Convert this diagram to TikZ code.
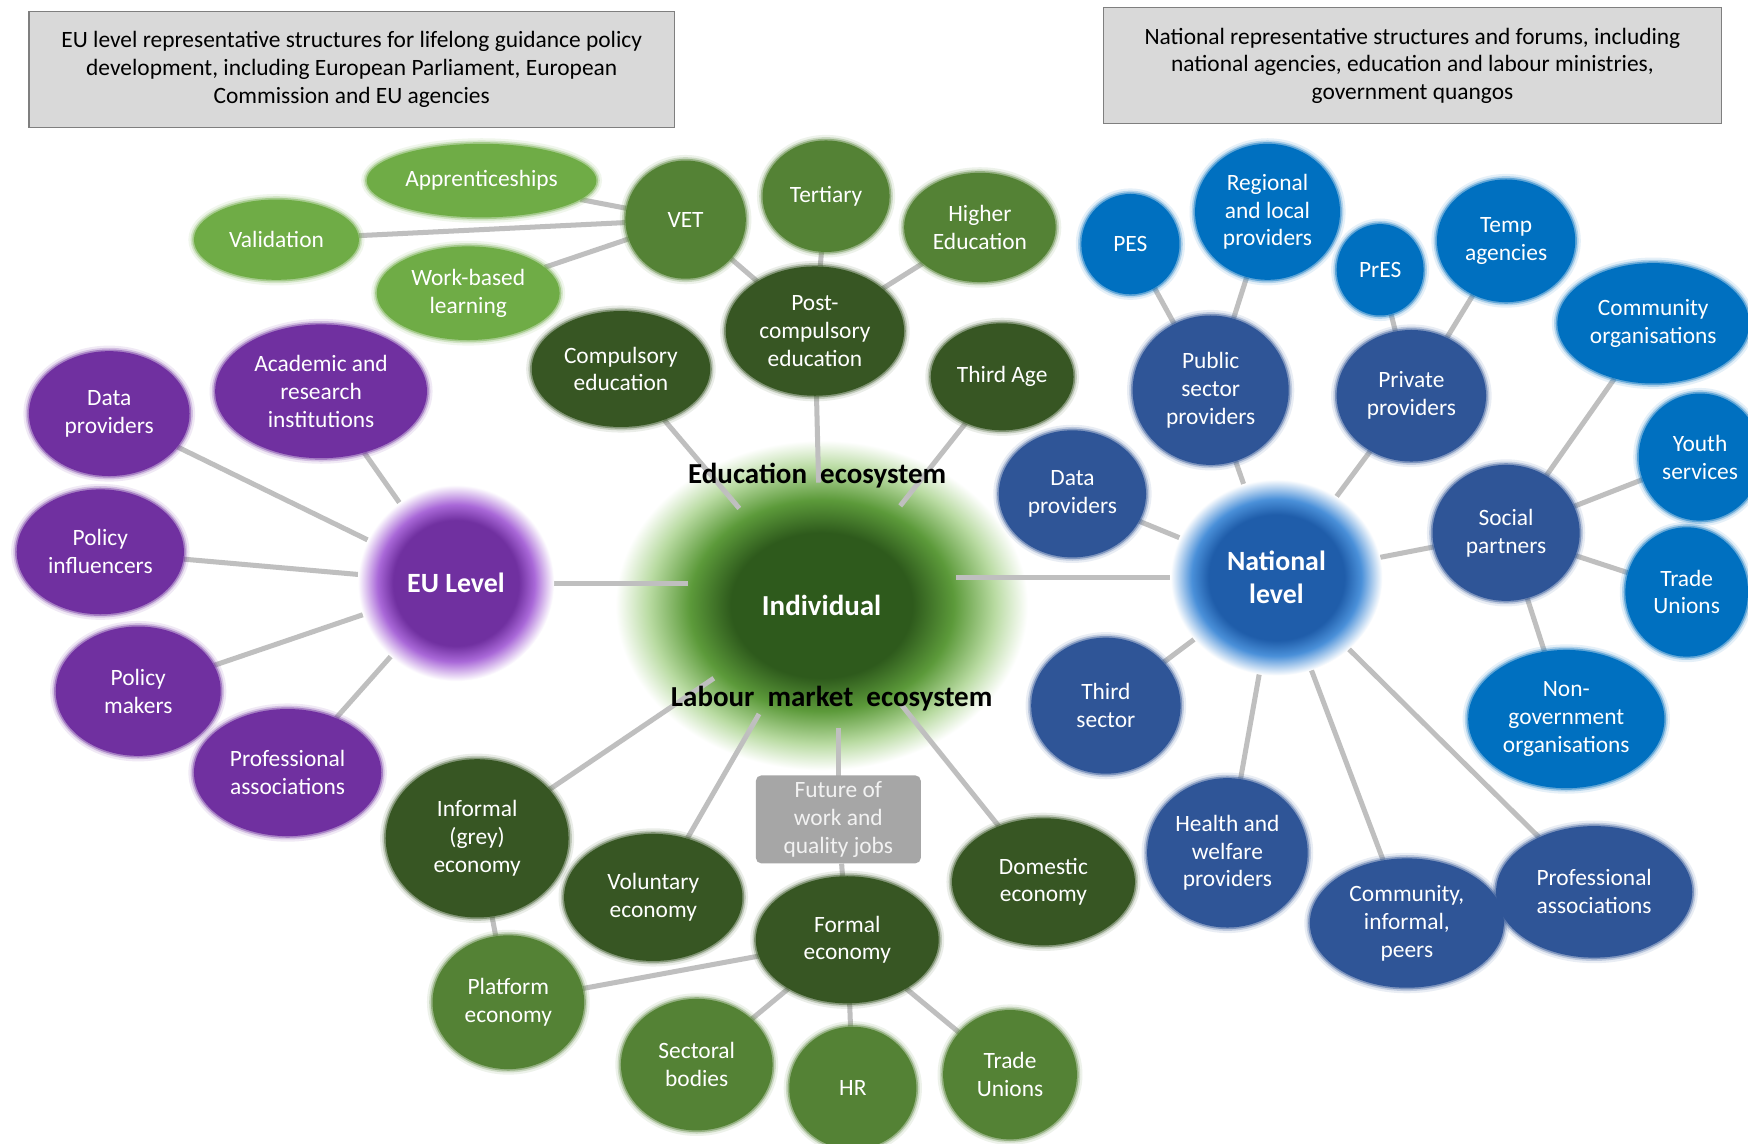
\documentclass[tikz,border=0pt]{standalone}
\usepackage{fontspec}
\setmainfont{Carlito}
\usetikzlibrary{shapes.geometric}
\definecolor{lg}{HTML}{6FAC46}
\definecolor{mg}{HTML}{548235}
\definecolor{dg}{HTML}{375623}
\definecolor{purp}{HTML}{7030A0}
\definecolor{purpL}{HTML}{A968D8}
\definecolor{db}{HTML}{2F5597}
\definecolor{bb}{HTML}{0070C0}
\definecolor{natC}{HTML}{1F5DAA}
\definecolor{natL}{HTML}{4A90D9}
\definecolor{edgec}{HTML}{BFBFBF}
\definecolor{boxf}{HTML}{D9D9D9}
\definecolor{boxd}{HTML}{7F7F7F}
\definecolor{futf}{HTML}{A6A6A6}
\definecolor{indD}{HTML}{2E5A1C}
\definecolor{indM}{HTML}{5C9A3A}
\definecolor{indL}{HTML}{B9DBA2}
\pgfdeclareradialshading{indglow}{\pgfpoint{0bp}{0bp}}{color(0bp)=(indD); color(11bp)=(indD); color(16bp)=(indM); color(21bp)=(indL); color(25bp)=(white); color(50bp)=(white)}
\pgfdeclareradialshading{euglow}{\pgfpoint{0bp}{0bp}}{color(0bp)=(purp); color(16bp)=(purp); color(20bp)=(purpL); color(25bp)=(white); color(50bp)=(white)}
\pgfdeclareradialshading{natglow}{\pgfpoint{0bp}{0bp}}{color(0bp)=(natC); color(16bp)=(natC); color(20bp)=(natL); color(25bp)=(white); color(50bp)=(white)}
\pgfdeclarelayer{glow}
\pgfdeclarelayer{lines}
\pgfsetlayers{glow,lines,main}
\newcommand\nfont{\fontsize{21}{25}\selectfont}
\tikzset{
  bub/.style={ellipse, fill=#1, text=white, inner sep=0pt, align=center, font=\nfont,
    preaction={draw=#1, line width=10pt, opacity=0.10},
    preaction={draw=#1, line width=6pt, opacity=0.22},
    preaction={draw=#1, line width=3pt, opacity=0.45}},
  sz/.style 2 args={minimum width=#1pt, minimum height=#2pt},
  conn/.style={draw=edgec, line width=4.5pt},
  infobox/.style={draw=boxd, line width=1pt, fill=boxf, align=center, font=\nfont, text=black, inner sep=0pt},
  eco/.style={font=\fontsize{26}{30}\selectfont\bfseries, text=black},
}
\begin{document}
\begin{tikzpicture}[x=1pt, y=-1pt]
\useasboundingbox (0,0) rectangle (1568,1026);
\begin{pgfonlayer}{glow}
\fill[white] (0,0) rectangle (1568,1026);
\end{pgfonlayer}

% info boxes
\node[infobox, minimum width=579pt, minimum height=104pt] (eubox) at (315.5,62)
  {EU level representative structures for lifelong guidance policy\\development,\ including European Parliament, European\\Commission and EU agencies};
\node[infobox, minimum width=554pt, minimum height=104pt] (natbox) at (1267,59)
  {National representative structures and forums, including\\national agencies, education and labour ministries,\\government\ quangos};

% individual glow
\begin{pgfonlayer}{glow}
\node[ellipse, minimum width=370pt, minimum height=296pt, inner sep=0pt, shading=indglow] (indg) at (737,543) {};
\end{pgfonlayer}
\node[ellipse, minimum width=240pt, minimum height=220pt, inner sep=0pt] (indc) at (737,543) {};
\node[font=\fontsize{26}{30}\selectfont\bfseries, text=white] (ind) at (737,543) {Individual};
\node[eco] (edueco) at (733,427) {Education\ \ ecosystem};
\node[eco] (labeco) at (746,627) {Labour\ \ market\ \ ecosystem};

% education
\node[bub=lg, sz={206}{66}] (appr) at (432,162) {Apprenticeships};
\node[bub=lg, sz={148}{72}] (valid) at (248,215) {Validation};
\node[bub=lg, sz={164}{84}] (wbl) at (420,263) {Work-based\\learning};
\node[bub=mg, sz={108}{106}] (vet) at (615,197) {VET};
\node[bub=mg, sz={114}{100}] (tert) at (741,176) {Tertiary};
\node[bub=mg, sz={136}{98}] (higher) at (879,204) {Higher\\Education};
\node[bub=dg, sz={160}{116}] (post) at (731,297) {Post-\\compulsory\\education};
\node[bub=dg, sz={160}{104}] (comp) at (557,331) {Compulsory\\education};
\node[bub=dg, sz={128}{96}] (third) at (899,338) {Third Age};

% EU
\node[ellipse, shading=euglow, minimum width=176pt, minimum height=176pt, inner sep=0pt,
  text=white, font=\fontsize{25}{28}\selectfont\bfseries] (eu) at (409,523) {EU Level};
\node[bub=purp, sz={144}{112}] (dp1) at (98,371) {Data\\providers};
\node[bub=purp, sz={190}{120}] (acad) at (288,351) {Academic and\\research\\institutions};
\node[bub=purp, sz={150}{112}] (pinf) at (90,495) {Policy\\influencers};
\node[bub=purp, sz={148}{116}] (pmak) at (124,620) {Policy\\makers};
\node[bub=purp, sz={168}{114}] (prof1) at (258,693) {Professional\\associations};

% national
\node[ellipse, shading=natglow, minimum width=190pt, minimum height=176pt, inner sep=0pt, align=center,
  text=white, font=\fontsize{25}{30}\selectfont\bfseries] (nat) at (1145,518) {National\\level};
\node[bub=bb, sz={88}{90}] (pes) at (1014,219) {PES};
\node[bub=bb, sz={130}{122}] (reg) at (1137,190) {Regional\\and local\\providers};
\node[bub=bb, sz={78}{82}] (pres) at (1238,242) {PrES};
\node[bub=bb, sz={124}{110}] (temp) at (1351,216) {Temp\\agencies};
\node[bub=bb, sz={172}{108}] (corg) at (1483,290) {Community\\organisations};
\node[bub=db, sz={140}{134}] (pub) at (1086,350) {Public\\sector\\providers};
\node[bub=db, sz={134}{118}] (priv) at (1266,355) {Private\\providers};
\node[bub=db, sz={132}{114}] (dp2) at (962,443) {Data\\providers};
\node[bub=db, sz={132}{122}] (soc) at (1351,478) {Social\\partners};
\node[bub=bb, sz={110}{114}] (youth) at (1525,410) {Youth\\services};
\node[bub=bb, sz={110}{116}] (tu2) at (1513,531) {Trade\\Unions};
\node[bub=bb, sz={176}{124}] (ngo) at (1405,645) {Non-\\government\\organisations};
\node[bub=db, sz={134}{122}] (tsec) at (992,633) {Third\\sector};
\node[bub=db, sz={144}{134}] (health) at (1101,765) {Health and\\welfare\\providers};
\node[bub=db, sz={174}{116}] (cinf) at (1262,828) {Community,\\informal,\\peers};
\node[bub=db, sz={176}{118}] (prof2) at (1430,800) {Professional\\associations};

% labour market
\node[bub=dg, sz={164}{142}] (inf) at (428,752) {Informal\\(grey)\\economy};
\node[bub=dg, sz={160}{114}] (vol) at (586,805) {Voluntary\\economy};
\node[fill=futf, rounded corners=5pt, minimum width=148pt, minimum height=79pt, inner sep=0pt,
  align=center, font=\nfont, text={white!95!black}] (fut) at (752,735) {Future of\\work and\\quality jobs};
\node[bub=dg, sz={164}{114}] (dom) at (936,791) {Domestic\\economy};
\node[bub=dg, sz={164}{114}] (formal) at (760,843) {Formal\\economy};
\node[bub=mg, sz={136}{120}] (plat) at (456,899) {Platform\\economy};
\node[bub=mg, sz={136}{118}] (sect) at (625,955) {Sectoral\\bodies};
\node[bub=mg, sz={114}{110}] (hr) at (765,976) {HR};
\node[bub=mg, sz={120}{116}] (tu1) at (906,964) {Trade\\Unions};

% connectors
\begin{pgfonlayer}{lines}
\draw[conn] (appr) -- (vet);
\draw[conn] (valid) -- (vet);
\draw[conn] (wbl) -- (vet);
\draw[conn] (vet) -- (post);
\draw[conn] (tert) -- (post);
\draw[conn] (higher) -- (post);
\draw[conn] (post) -- (indc);
\draw[conn] (comp) -- (indc);
\draw[conn] (third) -- (indc);
\draw[conn] (eu.center) -- (eu.center -| indc.west);
\draw[conn] (nat.center) -- (nat.center -| indc.east);
\draw[conn] (eu) -- (dp1);
\draw[conn] (eu) -- (acad);
\draw[conn] (eu) -- (pinf);
\draw[conn] (eu) -- (pmak);
\draw[conn] (eu) -- (prof1);
\draw[conn] (nat) -- (pub);
\draw[conn] (nat) -- (priv);
\draw[conn] (nat) -- (dp2);
\draw[conn] (nat) -- (soc);
\draw[conn] (nat) -- (tsec);
\draw[conn] (nat) -- (health);
\draw[conn] (nat) -- (cinf);
\draw[conn] (nat) -- (prof2);
\draw[conn] (pub) -- (pes);
\draw[conn] (pub) -- (reg);
\draw[conn] (priv) -- (pres);
\draw[conn] (priv) -- (temp);
\draw[conn] (soc) -- (corg);
\draw[conn] (soc) -- (youth);
\draw[conn] (soc) -- (tu2);
\draw[conn] (soc) -- (ngo);
\draw[conn] (inf) -- (indc);
\draw[conn] (vol) -- (indc);
\draw[conn] (dom) -- (indc);
\draw[conn] (fut.center) -- (fut.center |- indc.south);
\draw[conn] (fut) -- (formal);
\draw[conn] (inf) -- (plat);
\draw[conn] (formal) -- (plat);
\draw[conn] (formal) -- (sect);
\draw[conn] (formal) -- (hr);
\draw[conn] (formal) -- (tu1);
\end{pgfonlayer}
\end{tikzpicture}
\end{document}
